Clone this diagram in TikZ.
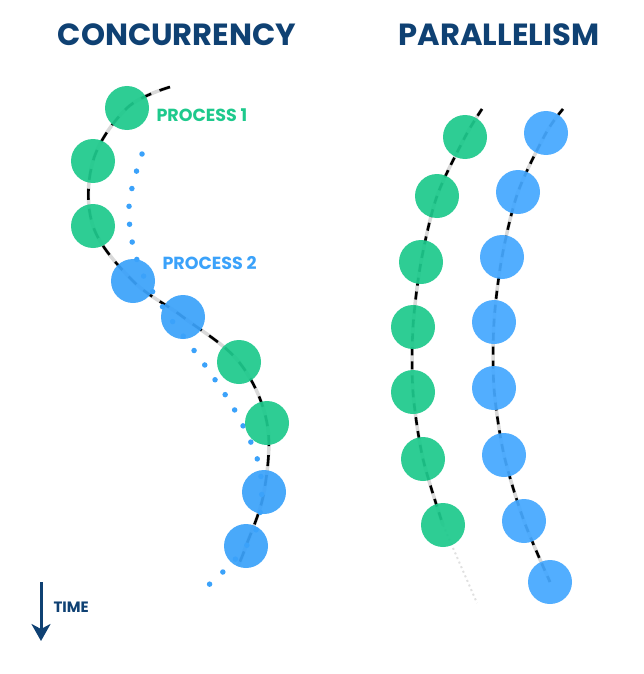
\documentclass[tikz,border=0pt]{standalone}
\usepackage{fontspec}
\setmainfont{Poppins}
\usetikzlibrary{arrows.meta}
\definecolor{navy}{HTML}{0F4173}
\definecolor{pgreen}{HTML}{1EC98C}
\definecolor{pblue}{HTML}{3BA2FA}
\definecolor{pblue2}{HTML}{45A8FF}
\tikzset{
  gc/.style={circle,fill=pgreen,fill opacity=0.93,minimum size=44pt,inner sep=0pt},
  bc/.style={circle,fill=pblue,fill opacity=0.93,minimum size=44pt,inner sep=0pt},
  bc2/.style={circle,fill=pblue2,fill opacity=0.93,minimum size=44pt,inner sep=0pt},
  under/.style={draw=black!15,line width=3.5pt},
  blackdash/.style={draw=black,line width=2.6pt,dash pattern=on 11pt off 9pt},
  pdash/.style={draw=black,line width=2.6pt,dash pattern=on 8pt off 6pt},
  bluedots/.style={draw=pblue,line width=5.5pt,line cap=round,dash pattern=on 0pt off 18pt},
  title/.style={text=navy,font=\bfseries\fontsize{30.6}{30.6}\selectfont},
  plabel/.style={font=\bfseries\fontsize{17.5}{17.5}\selectfont},
}
\begin{document}
\begin{tikzpicture}[x=1pt,y=-1pt]
\useasboundingbox (0,0) rectangle (643,674);
% titles
\node[title] (t1) at (177,35) {CONCURRENCY};
\node[title] (t2) at (499,35) {PARALLELISM};
% concurrency coordinates
\coordinate (cs) at (170,87);
\coordinate (ce) at (238,566);
\coordinate (g1p) at (127,108);
\coordinate (g2p) at (93,161);
\coordinate (g3p) at (93,226);
\coordinate (b1p) at (133,281);
\coordinate (b2p) at (183,317);
\coordinate (g4p) at (239,362);
\coordinate (g5p) at (267,423);
\coordinate (b3p) at (264,492);
\coordinate (b4p) at (246,546);
% process curve
\draw[under] plot[smooth,tension=0.6] coordinates {(cs) (g1p) (g2p) (g3p) (b1p) (b2p) (g4p) (g5p) (b3p) (b4p) (ce)};
\draw[blackdash] plot[smooth,tension=0.6] coordinates {(cs) (g1p) (g2p) (g3p) (b1p) (b2p) (g4p) (g5p) (b3p) (b4p) (ce)};
% blue dotted path
\coordinate (ds) at (142,154);
\coordinate (de) at (198,593);
\draw[bluedots] plot[smooth,tension=0.6] coordinates {(ds) (129,207) (138,263) (166,312) (209,371) (239,418) (260,470) (258,524) (238,556) (212,582) (de)};
% circles
\node[gc] (g1) at (g1p) {};
\node[gc] (g2) at (g2p) {};
\node[gc] (g3) at (g3p) {};
\node[bc] (b1) at (b1p) {};
\node[bc] (b2) at (b2p) {};
\node[gc] (g4) at (g4p) {};
\node[gc] (g5) at (g5p) {};
\node[bc] (b3) at (b3p) {};
\node[bc] (b4) at (b4p) {};
% labels
\node[plabel,text=pgreen,anchor=west] (l1) at (153,115) {PROCESS 1};
\node[plabel,text=pblue,anchor=west] (l2) at (159,263) {PROCESS 2};
% parallelism green
\coordinate (pgs) at (482,109);
\coordinate (pge) at (477,603);
\coordinate (pg1) at (465,137);
\coordinate (pg2) at (437,196);
\coordinate (pg3) at (421,262);
\coordinate (pg4) at (413,327);
\coordinate (pg5) at (413,392);
\coordinate (pg6) at (423,459);
\coordinate (pg7) at (443,525);
\draw[under] plot[smooth,tension=0.5] coordinates {(pgs) (pg1) (pg2) (pg3) (pg4) (pg5) (pg6) (pg7)};
\draw[pdash] plot[smooth,tension=0.5] coordinates {(pgs) (pg1) (pg2) (pg3) (pg4) (pg5) (pg6) (pg7)};
\draw[draw=black!12,line width=2pt,dash pattern=on 2pt off 3pt] (pg7) -- (pge);
% parallelism blue
\coordinate (pbs) at (563,109);
\coordinate (pb1) at (546,133);
\coordinate (pb2) at (518,192);
\coordinate (pb3) at (502,257);
\coordinate (pb4) at (494,322);
\coordinate (pb5) at (494,388);
\coordinate (pb6) at (504,455);
\coordinate (pb7) at (524,521);
\coordinate (pb8) at (550,582);
\draw[under] plot[smooth,tension=0.5] coordinates {(pbs) (pb1) (pb2) (pb3) (pb4) (pb5) (pb6) (pb7) (pb8)};
\draw[pdash] plot[smooth,tension=0.5] coordinates {(pbs) (pb1) (pb2) (pb3) (pb4) (pb5) (pb6) (pb7) (pb8)};
\foreach \i in {1,...,7} \node[gc] (qg\i) at (pg\i) {};
\foreach \i in {1,...,8} \node[bc2] (qb\i) at (pb\i) {};
% time arrow
\coordinate (ta) at (41,582);
\coordinate (tb) at (41,641);
\draw[navy,line width=3pt,-{Stealth[length=17pt,width=19pt,inset=5pt]}] (ta) -- (tb);
\node[text=navy,font=\bfseries\fontsize{15}{15}\selectfont,anchor=west] (time) at (50,607) {TIME};
\end{tikzpicture}
\end{document}
